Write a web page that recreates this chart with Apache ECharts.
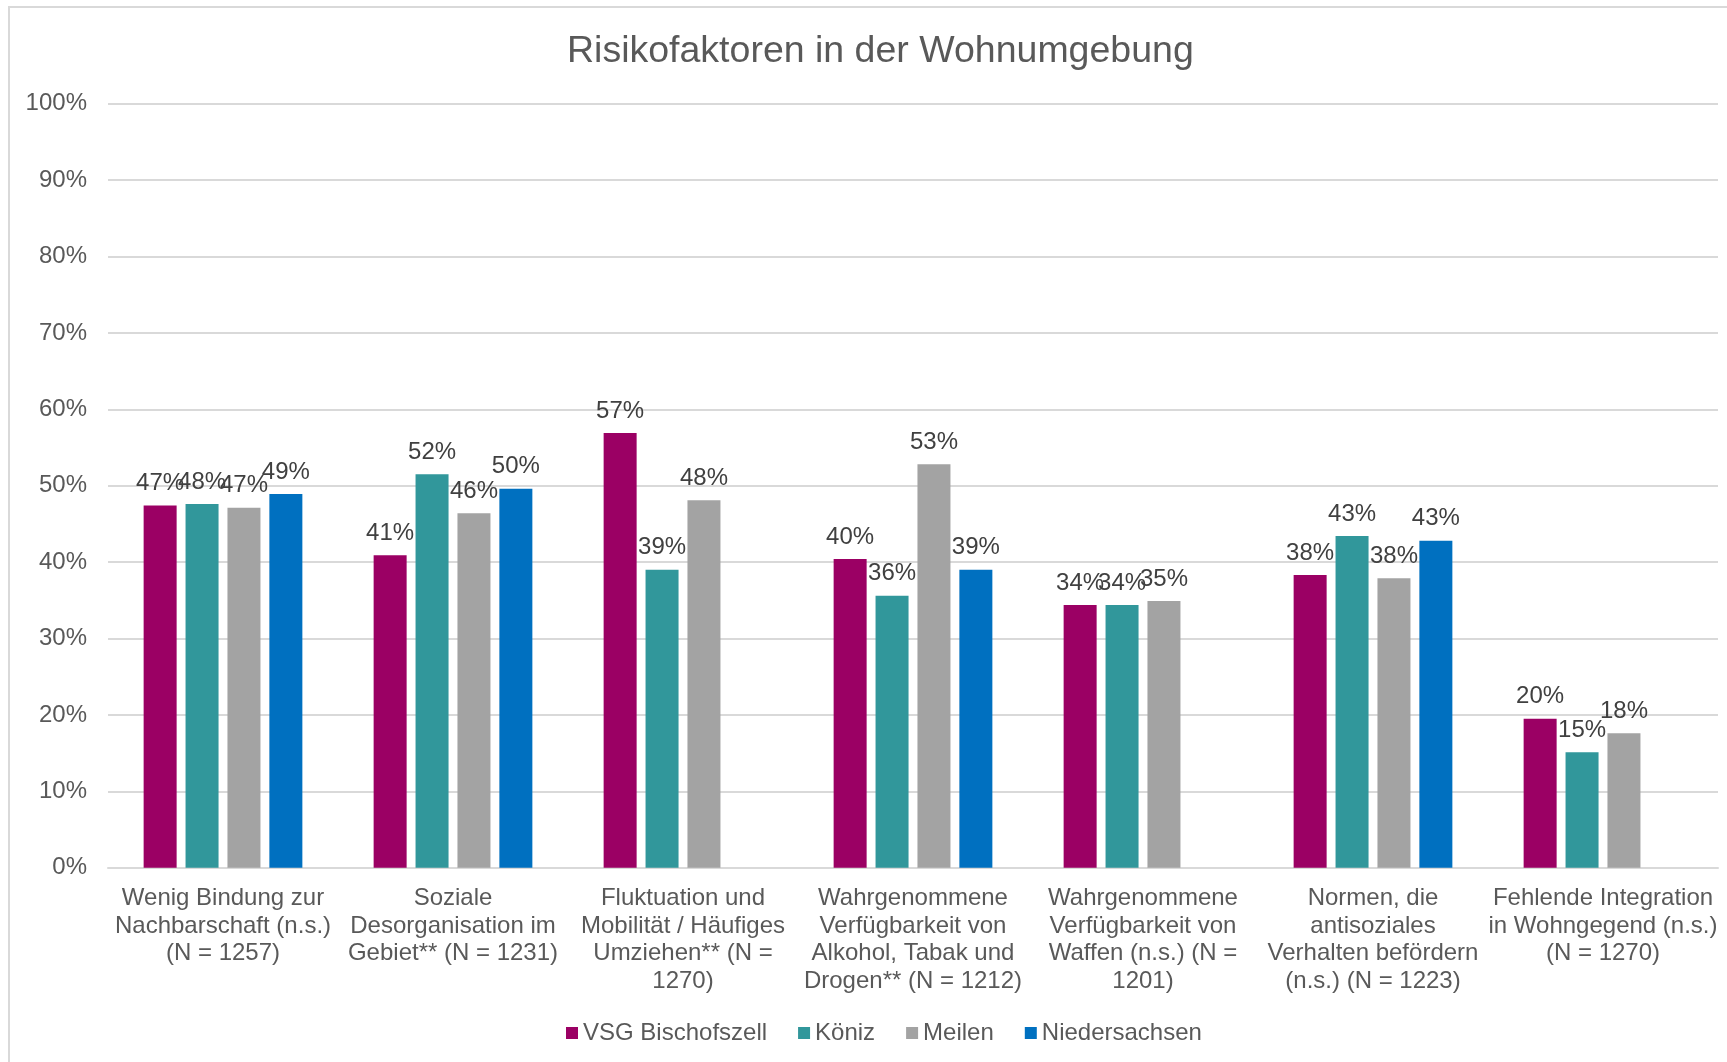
<!DOCTYPE html>
<html>
<head>
<meta charset="utf-8">
<script src="https://cdn.jsdelivr.net/npm/echarts@6/dist/echarts.min.js"></script>
<style>
  html, body { margin: 0; padding: 0; background: #fff; }
  #chart { width: 1727px; height: 1062px; }
</style>
</head>
<body>
<div id="chart"></div>
<script>
// Kategorien (Zeilenumbrüche wie im Original)
var categories = [
	'Wenig Bindung zur\nNachbarschaft (n.s.)\n(N = 1257)',
	'Soziale\nDesorganisation im\nGebiet** (N = 1231)',
	'Fluktuation und\nMobilität / Häufiges\nUmziehen** (N =\n1270)',
	'Wahrgenommene\nVerfügbarkeit von\nAlkohol, Tabak und\nDrogen** (N = 1212)',
	'Wahrgenommene\nVerfügbarkeit von\nWaffen (n.s.) (N =\n1201)',
	'Normen, die\nantisoziales\nVerhalten befördern\n(n.s.) (N = 1223)',
	'Fehlende Integration\nin Wohngegend (n.s.)\n(N = 1270)'
];

var seriesNames = ['VSG Bischofszell', 'Köniz', 'Meilen', 'Niedersachsen'];
var seriesColors = ['#9B0064', '#31979B', '#A3A3A3', '#0070C0'];

// Werte in Prozent
var bischofszell = [47.4, 40.9, 56.9, 40.4, 34.4, 38.3, 19.5];
var koeniz       = [47.6, 51.5, 39.0, 35.6, 34.4, 43.4, 15.1];
var meilen       = [47.1, 46.4, 48.1, 52.8, 34.9, 37.9, 17.6];
var niedersachsen = [48.9, 49.6, null, 39.0, null, 42.8, null];

var yTicks = [0, 10, 20, 30, 40, 50, 60, 70, 80, 90, 100];

var seriesData = [bischofszell, koeniz, meilen, niedersachsen];

var font = 'Liberation Sans, Arial, sans-serif';

function buildSeries(){
	var list = [];
	for(i=0;i<seriesNames.length;i++){
		list.push({
			name: seriesNames[i],
			type: 'bar',
			data: seriesData[i],
			barWidth: 33,
			barGap: '27%',
			itemStyle: { color: seriesColors[i] },
			label: {
				show: true,
				position: 'top',
				distance: 10,
				color: '#404040',
				fontFamily: font,
				fontSize: 24,
				formatter: function(p){
					if(p.value==null) return '';
					return Math.round(p.value) + '%';
				}
			}
		});
	}
	return list;
}

var myChart = echarts.init(document.getElementById('chart'));
var option = {
	animation: false,
	backgroundColor: '#fff',
	title: {
		text: 'Risikofaktoren in der Wohnumgebung',
		left: 562,
		top: 28,
		textStyle: {
			fontFamily: font,
			fontSize: 37.5,
			fontWeight: 'normal',
			color: '#595959'
		}
	},
	graphic: [{
		type: 'rect',
		z: -10,
		shape: { x: 9, y: 7, width: 1740, height: 1080 },
		style: { fill: 'none', stroke: '#D9D9D9', lineWidth: 2 }
	}],
	legend: {
		data: seriesNames,
		left: 561,
		top: 1016,
		icon: 'rect',
		itemWidth: 12,
		itemHeight: 12,
		itemGap: 31,
		textStyle: {
			fontFamily: font,
			fontSize: 24,
			color: '#595959'
		}
	},
	grid: {
		left: 108,
		right: 9,
		top: 103.7,
		bottom: 194.3,
		containLabel: false
	},
	xAxis: {
		type: 'category',
		data: categories,
		axisTick: { show: false },
		axisLine: { lineStyle: { color: '#D9D9D9', width: 2 } },
		axisLabel: {
			interval: 0,
			margin: 17,
			fontFamily: font,
			fontSize: 24,
			lineHeight: 27.5,
			color: '#595959'
		}
	},
	yAxis: {
		type: 'value',
		min: yTicks[0],
		max: yTicks[yTicks.length-1],
		interval: yTicks[1]-yTicks[0],
		axisLine: { show: false },
		axisTick: { show: false },
		splitLine: { lineStyle: { color: '#D9D9D9', width: 2 } },
		axisLabel: {
			margin: 21,
			fontFamily: font,
			fontSize: 24,
			color: '#595959',
			formatter: '{value}%'
		}
	},
	series: buildSeries()
};
myChart.setOption(option);
</script>
</body>
</html>
